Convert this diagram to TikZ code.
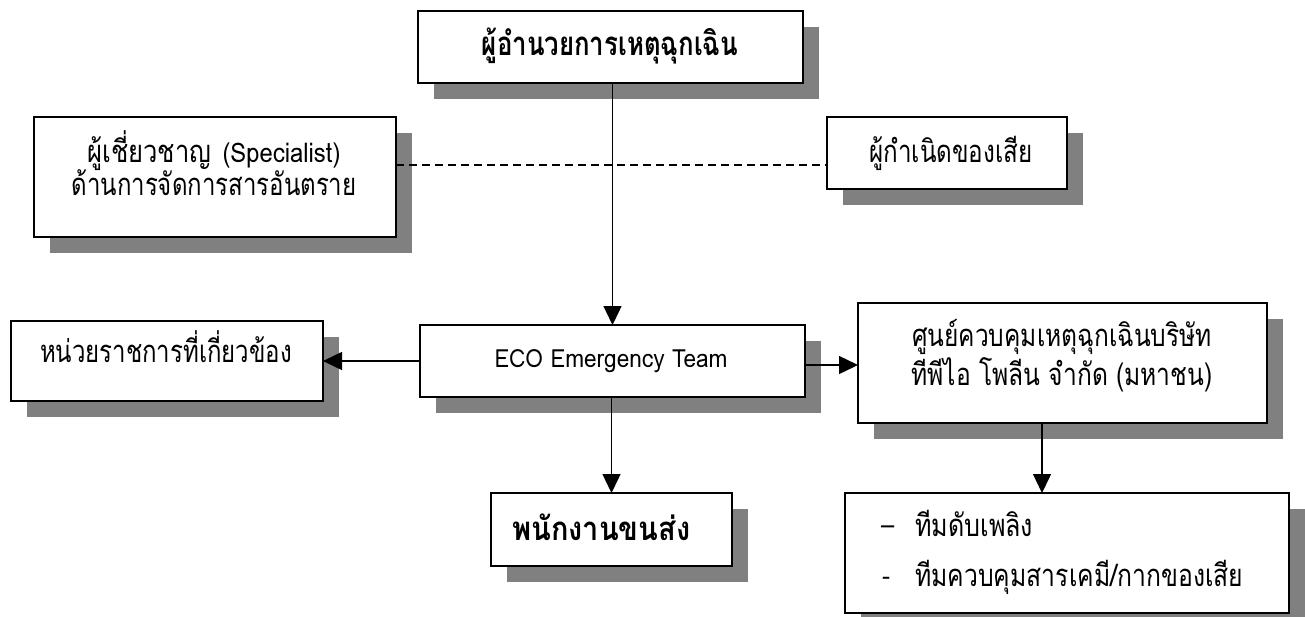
\documentclass[tikz,border=0pt]{standalone}
\usepackage{fontspec}
\usepackage{graphicx}
\newfontfamily\thai[Script=Thai]{Loma}
\newfontfamily\lat{Loma}
\newcommand\fitw[2]{\resizebox{#1pt}{\height}{#2}}
\usetikzlibrary{arrows.meta,shadows}
\begin{document}
\begin{tikzpicture}[x=1pt,y=-1pt,
  box/.style={draw, line width=1.4pt, fill=white, outer sep=0pt, inner sep=0pt,
    drop shadow={shadow xshift=16pt, shadow yshift=-16pt, fill=black!50, opacity=1}},
  tx/.style={inner sep=0pt, anchor=base, font=\thai\fontsize{31}{34}\selectfont},
  txb/.style={inner sep=0pt, anchor=base, font=\thai\bfseries\fontsize{33}{36}\selectfont},
  dsh/.style={inner sep=0pt, anchor=base west, font=\lat\fontsize{24}{28}\selectfont},
  arr/.style={line width=1.4pt, -{Triangle[length=19pt,width=18pt]}},
  dashln/.style={line width=1.2pt, dash pattern=on 8pt off 5pt}]
\useasboundingbox (0,0) rectangle (1305,616);
\fill[white] (0,0) rectangle (1305,616);
\begin{scope}
\clip (0,0) rectangle (1305,616);
\node[box, minimum width=385pt, minimum height=72pt] (top) at (610.5,47) {};
\node[box, minimum width=362pt, minimum height=120pt] (spec) at (215,177) {};
\node[box, minimum width=240pt, minimum height=72pt] (waste) at (947,153) {};
\node[box, minimum width=312pt, minimum height=80pt] (gov) at (167,361) {};
\node[box, minimum width=385pt, minimum height=72pt] (eco) at (612.5,361) {};
\node[box, minimum width=409pt, minimum height=120pt] (comp) at (1062.5,363) {};
\node[box, minimum width=241pt, minimum height=73pt] (driver) at (611.5,529.5) {};
\node[box, minimum width=444pt, minimum height=120pt] (teams) at (1067,553) {};
\end{scope}

\node[txb] (topT) at (610,55) {\fitw{256}{ผู้อำนวยการเหตุฉุกเฉิน}};
\node[tx] (specT1) at (214,162) {\fitw{124}{ผู้เชี่ยวชาญ}\hspace{11pt}\fitw{118}{\lat\fontsize{27}{30}\selectfont (Specialist)}};
\node[tx] (specT2) at (214,195) {\fitw{285}{ด้านการจัดการสารอันตราย}};
\node[tx] (wasteT) at (951,162) {\fitw{163}{ผู้กำเนิดของเสีย}};
\node[tx] (govT) at (166,362) {\fitw{252}{หน่วยราชการที่เกี่ยวข้อง}};
\node[tx, font=\lat\fontsize{25}{28}\selectfont] (ecoT) at (611,367) {\fitw{233}{ECO Emergency Team}};
\node[tx] (compT1) at (1062,346) {\fitw{300}{ศูนย์ควบคุมเหตุฉุกเฉินบริษัท}};
\node[tx] (compT2) at (1062,385) {\fitw{301}{ทีพีไอ โพลีน จำกัด (มหาชน)}};
\node[txb, anchor=base west] (driverT) at (512,540) {\fitw{178}{พนักงานขนส่ง}};
\node[dsh] (d1) at (881,534) {–};
\node[tx, anchor=base west] (teamsT1) at (915,536) {\fitw{118}{ทีมดับเพลิง}};
\node[dsh] (d2) at (882,584) {-};
\node[tx, anchor=base west] (teamsT2) at (915,586) {\fitw{328}{ทีมควบคุมสารเคมี/กากของเสีย}};

\draw[arr] (top.south -| eco.north) -- (eco.north);
\draw[dashln] ([yshift=12pt]spec.east) -- ([yshift=12pt]spec.east -| waste.west);
\draw[arr] (eco.west) -- (gov.east);
\draw[arr] ([yshift=-4pt]eco.east) -- ([yshift=-4pt]eco.east -| comp.west);
\draw[arr] (eco.south -| driver.north) -- (driver.north);
\coordinate (cs) at ([xshift=-20.5pt]comp.south);
\draw[arr] (cs) -- (cs |- teams.north);
\end{tikzpicture}
\end{document}
